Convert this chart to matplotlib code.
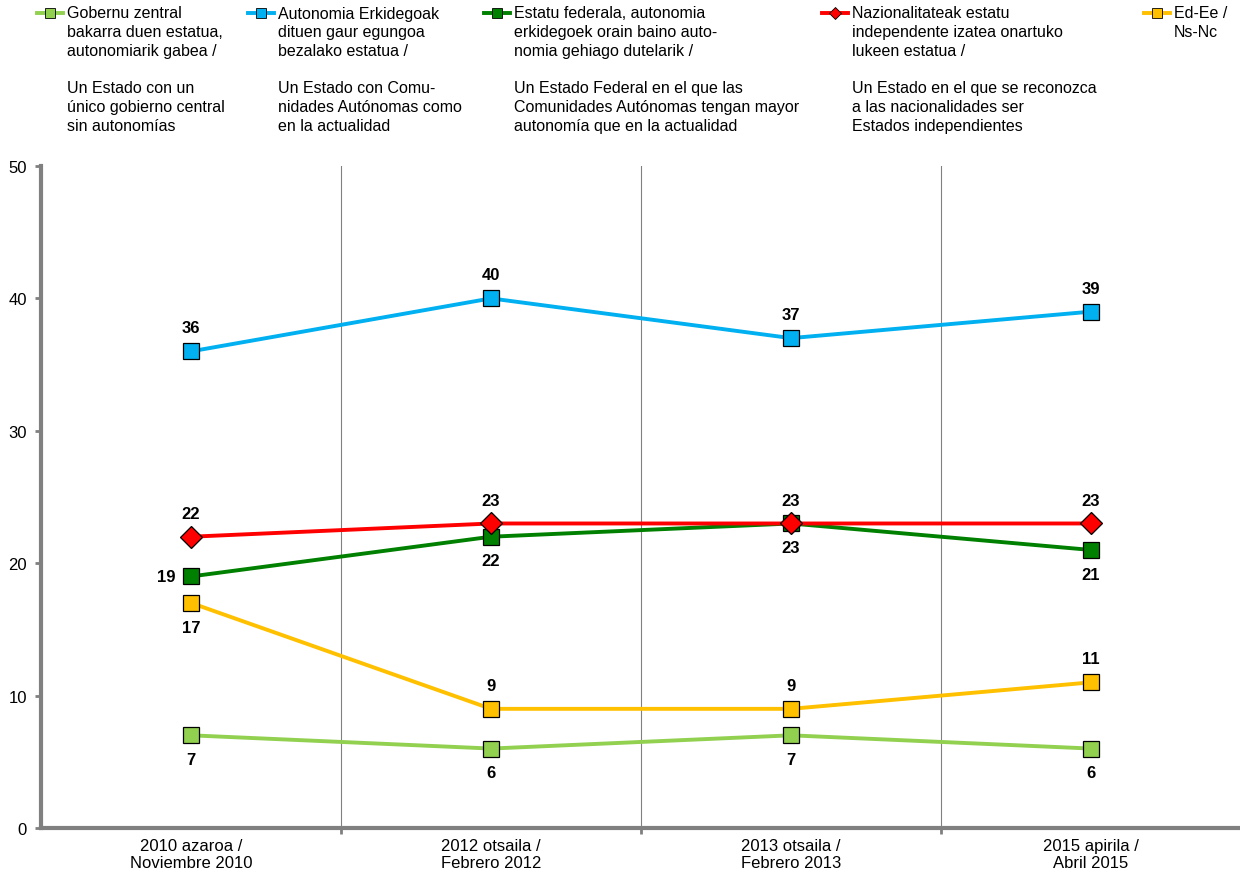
import matplotlib.pyplot as plt
from matplotlib.lines import Line2D

plt.rcParams['font.family'] = ['Liberation Sans', 'DejaVu Sans']

periods = ['2010 azaroa /\nNoviembre 2010', '2012 otsaila /\nFebrero 2012',
           '2013 otsaila /\nFebrero 2013', '2015 apirila /\nAbril 2015']

gobernu = [7, 6, 7, 6]
autonomia = [36, 40, 37, 39]
federal = [19, 22, 23, 21]
nazional = [22, 23, 23, 23]
ed_ee = [17, 9, 9, 11]

names = [
    'Gobernu zentral\nbakarra duen estatua,\nautonomiarik gabea /\n\nUn Estado con un\núnico gobierno central\nsin autonomías',
    'Autonomia Erkidegoak\ndituen gaur egungoa\nbezalako estatua /\n\nUn Estado con Comu-\nnidades Autónomas como\nen la actualidad',
    'Estatu federala, autonomia\nerkidegoek orain baino auto-\nnomia gehiago dutelarik /\n\nUn Estado Federal en el que las\nComunidades Autónomas tengan mayor\nautonomía que en la actualidad',
    'Nazionalitateak estatu\nindependente izatea onartuko\nlukeen estatua /\n\nUn Estado en el que se reconozca\na las nacionalidades ser\nEstados independientes',
    'Ed-Ee /\nNs-Nc',
]

series = [gobernu, autonomia, federal, nazional, ed_ee]
colors = ['#92D050', '#00B0F0', '#008000', '#FF0000', '#FFC000']
markers = ['s', 's', 's', 'D', 's']
# where the value label goes for each point: 'a' above, 'b' below, 'l' left
label_pos = [
    ['b', 'b', 'b', 'b'],
    ['a', 'a', 'a', 'a'],
    ['l', 'b', 'b', 'b'],
    ['a', 'a', 'a', 'a'],
    ['b', 'a', 'a', 'a'],
]

fig = plt.figure(figsize=(12.4, 8.78), dpi=100)
ax = fig.add_axes([41 / 1240, 1 - 829 / 878, 1200 / 1240, 662 / 878])

x = range(len(periods))
for vals, c, m, pos in zip(series, colors, markers, label_pos):
    ms = 11 if m == 'D' else 11.5
    ax.plot(x, vals, color=c, lw=2.8, marker=m, ms=ms, mfc=c, mec='black',
            mew=0.9, zorder=3, clip_on=False)
    for xi, v, p in zip(x, vals, pos):
        if p == 'a':
            ax.annotate(str(v), (xi, v), xytext=(0, 11.5), textcoords='offset points',
                        ha='center', va='bottom', fontsize=12, fontweight='bold')
        elif p == 'b':
            ax.annotate(str(v), (xi, v), xytext=(0, -12), textcoords='offset points',
                        ha='center', va='top', fontsize=12, fontweight='bold')
        else:
            ax.annotate(str(v), (xi, v), xytext=(-11, 0), textcoords='offset points',
                        ha='right', va='center', fontsize=12, fontweight='bold')

ax.set_xlim(-0.5, 3.5)
ax.set_ylim(0, 50)
ax.set_yticks(range(0, 51, 10))
ax.set_xticks(list(x))
ax.set_xticklabels(periods, fontsize=12)
ax.set_xticks([0.5, 1.5, 2.5], minor=True)
ax.tick_params(axis='x', which='major', length=0, pad=7)
ax.tick_params(axis='x', which='minor', length=4, width=2, color='#808080')
ax.tick_params(axis='y', length=4, width=2, color='#808080', labelsize=12, pad=6)
ax.grid(axis='x', which='minor', color='#808080', lw=0.8)

for s in ['top', 'right']:
    ax.spines[s].set_visible(False)
for s in ['left', 'bottom']:
    ax.spines[s].set_color('#808080')
    ax.spines[s].set_linewidth(3)

# legend across the top
leg_x = [37, 248, 484, 822, 1144]
for lx, name, c, m in zip(leg_x, names, colors, markers):
    x0 = lx / 1240
    x1 = (lx + 26) / 1240
    y0 = 1 - 14 / 878
    fig.add_artist(Line2D([x0, x1], [y0, y0], color=c, lw=2.8,
                          transform=fig.transFigure))
    fig.add_artist(Line2D([(x0 + x1) / 2], [y0], color=c, marker=m,
                          ms=6 if m == 'D' else 7, mfc=c, mec='black', mew=0.6,
                          transform=fig.transFigure))
    fig.text((lx + 30) / 1240, 1 - 6.5 / 878, name, fontsize=11.5, va='top', ha='left',
             linespacing=1.31)

fig.savefig('out.png', dpi=100)
